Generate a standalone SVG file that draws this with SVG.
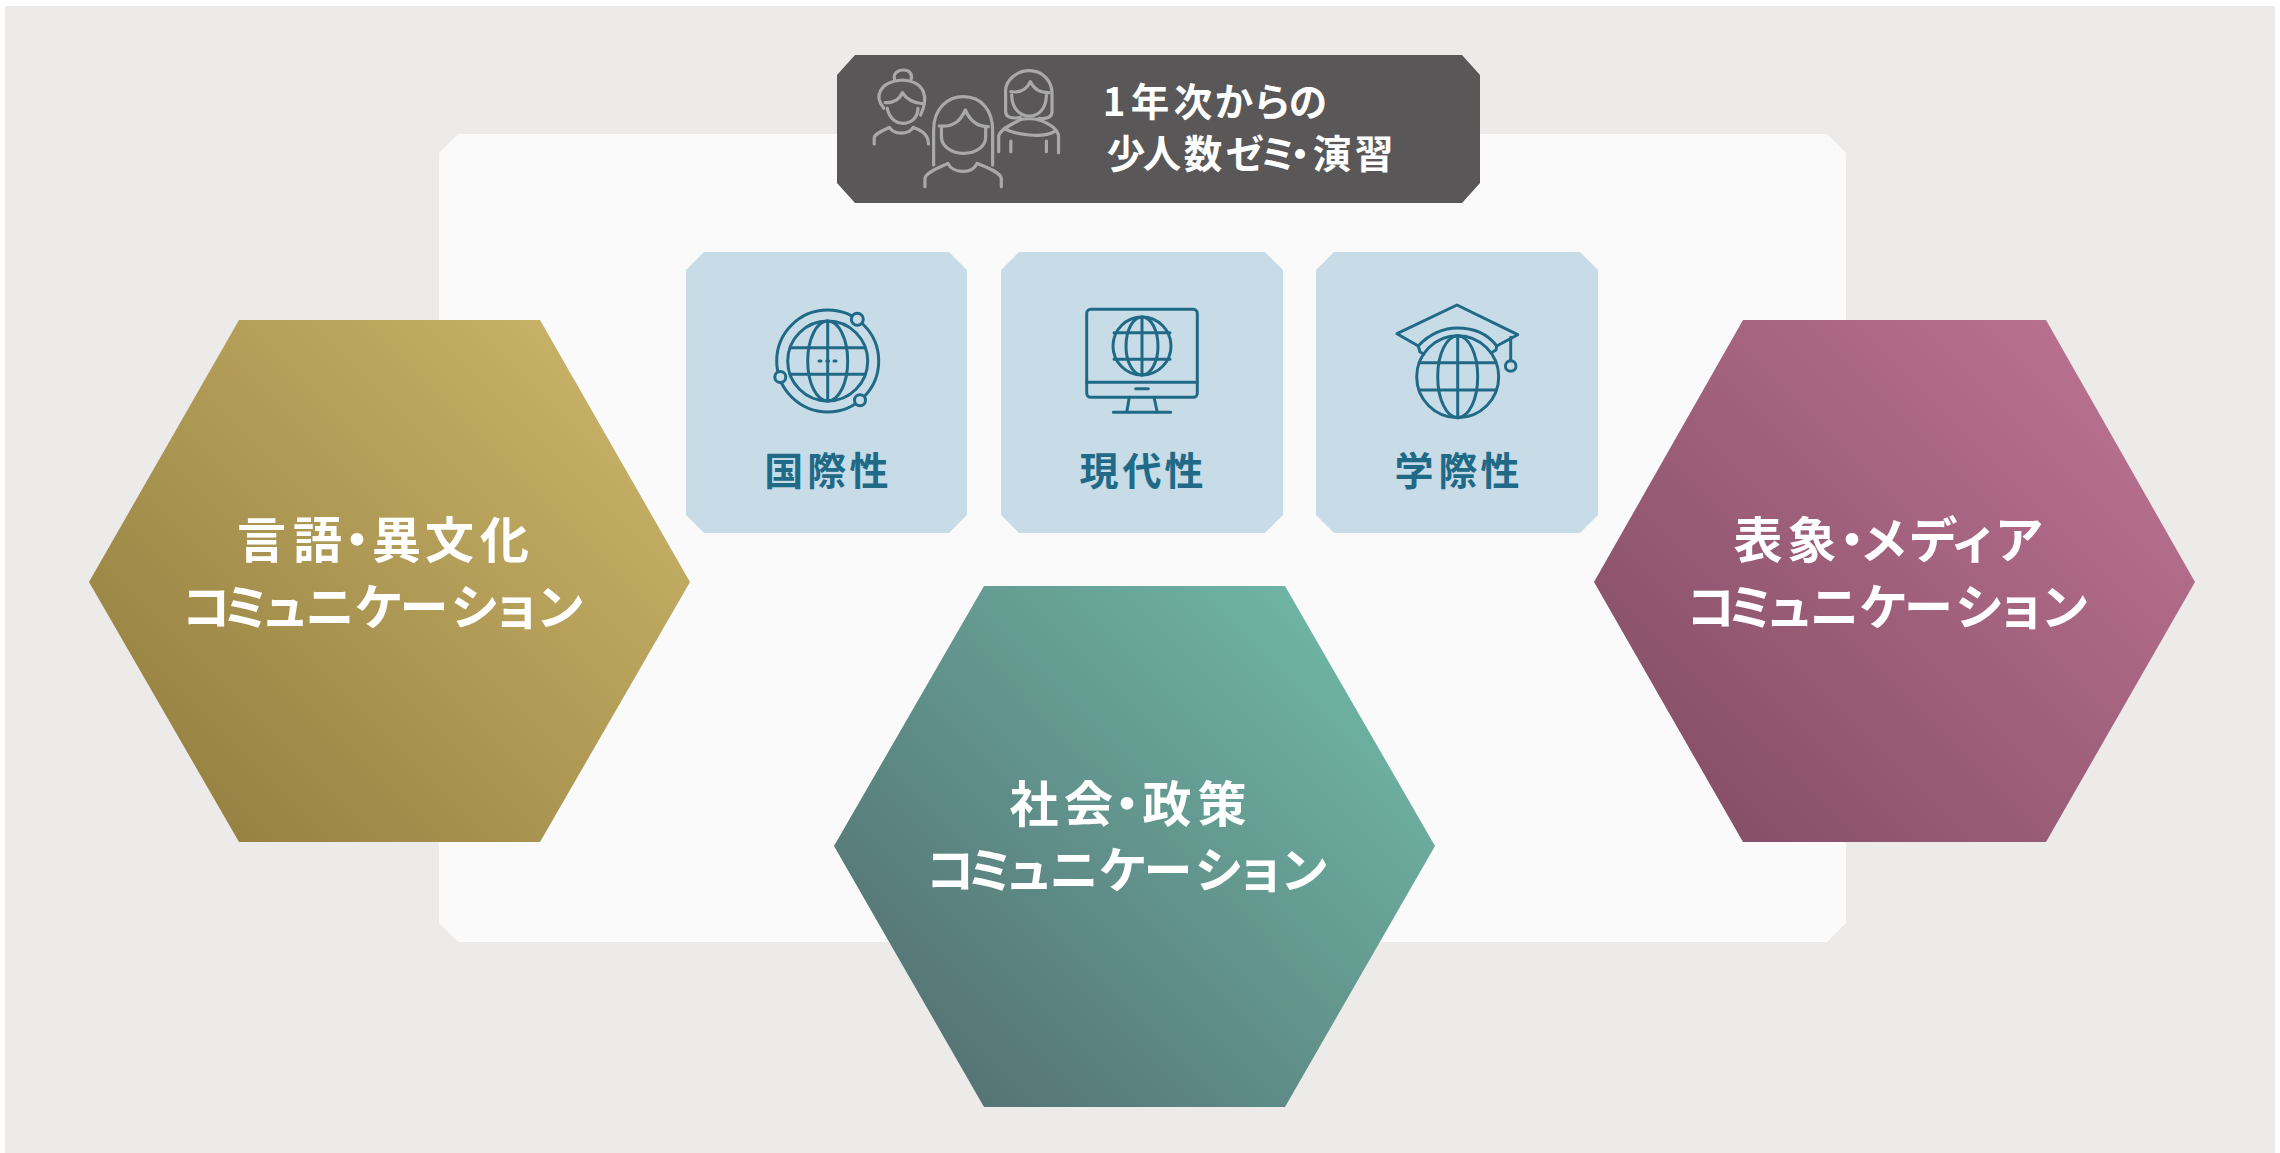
<svg xmlns="http://www.w3.org/2000/svg" width="2280" height="1153" viewBox="0 0 2280 1153">
<style>
text{font-family:"Noto Sans CJK JP","Noto Sans CJK SC",sans-serif;text-anchor:middle}
.hl{font-size:49px;font-weight:700;fill:#fff}
.dl{font-size:38.5px;font-weight:700;fill:#fff}
.cl{font-size:39px;font-weight:700;fill:#206a87}
.ic{fill:none;stroke:#206a87;stroke-width:3;stroke-linecap:round;stroke-linejoin:round}
.pp{fill:none;stroke:#a9a9a9;stroke-linecap:round;stroke-linejoin:round}
.pp path{stroke-width:3.2;vector-effect:non-scaling-stroke}
.card{fill:#c8dce8}
</style>
<defs>
<linearGradient id="gGold" gradientUnits="userSpaceOnUse" x1="184" y1="788" x2="610" y2="362"><stop offset="0" stop-color="#978243"/><stop offset="1" stop-color="#c8b268"/></linearGradient>
<linearGradient id="gGreen" gradientUnits="userSpaceOnUse" x1="928" y1="1052" x2="1354" y2="626"><stop offset="0" stop-color="#557474"/><stop offset="1" stop-color="#6fb6a6"/></linearGradient>
<linearGradient id="gPurple" gradientUnits="userSpaceOnUse" x1="1688" y1="788" x2="2114" y2="362"><stop offset="0" stop-color="#875068"/><stop offset="1" stop-color="#ba7191"/></linearGradient>
</defs>
<rect width="2280" height="1153" fill="#fff"/>
<rect id="background" x="5" y="6" width="2270" height="1147" fill="#ecebe9"/>
<polygon id="panel" points="458,134 1827,134 1846,153 1846,923 1827,942 458,942 439,923 439,153" fill="#fafafa"/>

<g id="node-seminar">
<polygon points="855,55 1462,55 1480,75 1480,183 1462,203 855,203 837,183 837,75" fill="#595758"/>
<g class="pp" transform="translate(820,40) scale(0.4337,0.3333)">
<path d="M172 118C168 100 180 90 192 90C206 90 214 102 210 118"/>
<path d="M147 205C125 170 135 125 190 120C245 125 250 175 232 225"/>
<path d="M155 205C160 240 180 250 190 250C210 250 225 235 226 205"/>
<path d="M150 188C170 190 185 175 190 158C198 175 215 190 240 192"/>
<path d="M125 312V295C125 280 150 270 160 262C170 285 205 285 215 262C230 270 250 280 250 312"/>
<path d="M262 375V270C262 205 295 170 330 170C375 170 398 215 398 270V375"/>
<path d="M280 265V290C280 320 305 340 330 340C360 340 382 320 382 290V262"/>
<path d="M275 258C310 262 325 240 335 210C345 240 360 260 388 260"/>
<path d="M242 440V415C245 395 280 380 295 370C305 400 350 405 362 370C380 380 415 395 418 415V440"/>
<path d="M462 232C440 238 428 230 428 215V160C425 120 455 92 482 92C515 92 535 125 535 160V215C535 230 525 238 505 235"/>
<path d="M442 165C442 210 465 228 482 228C505 228 522 205 522 165"/>
<path d="M440 155C465 160 478 145 485 125C492 145 505 158 528 158"/>
<path d="M412 335V290C412 270 440 255 460 240C470 235 495 235 505 240C530 250 550 270 550 290V338"/>
<path d="M425 265C450 285 515 295 540 275"/>
<path d="M440 303V335M522 303V335"/>
</g>
<text class="dl" x="1114 1150 1193 1234 1272 1308" y="116">1年次からの</text>
<text class="dl" x="1126 1162 1203 1245 1278 1300 1332 1374" y="168">少人数ゼミ・演習</text>
</g>

<g id="node-kokusai">
<polygon class="card" points="704,252 949,252 967,270 967,515 949,533 704,533 686,515 686,270"/>
<g class="ic">
<circle cx="827.7" cy="361" r="51"/>
<circle cx="827.7" cy="361" r="40"/>
<ellipse cx="827.7" cy="361" rx="20" ry="40"/>
<path d="M827.7 321V401M790 347.7H865M790 374.3H865"/>
<path d="M819 361H821M826.7 361H828.7M834 361H836"/>
<circle cx="857.3" cy="319.3" r="6" fill="#c8dce8"/>
<circle cx="780.3" cy="377" r="5.5" fill="#c8dce8"/>
<circle cx="860" cy="400.3" r="5.5" fill="#c8dce8"/>
</g>
<text class="cl" x="783.7 826.7 869" y="485">国際性</text>
</g>

<g id="node-gendai">
<polygon class="card" points="1019,252 1265,252 1283,270 1283,515 1265,533 1019,533 1001,515 1001,270"/>
<g class="ic">
<rect x="1086.7" y="309.3" width="110.6" height="88" rx="4"/>
<path d="M1086.7 382.3H1197.3M1135.7 388.7H1148.3M1129.3 397.3L1126.7 412.3M1154 397.3L1157.3 412.3M1113.3 412.3H1170.7"/>
<circle cx="1142" cy="346" r="29"/>
<ellipse cx="1142" cy="346" rx="16" ry="29"/>
<path d="M1142 317V375M1114 332.7H1170M1114 359.3H1170"/>
</g>
<text class="cl" x="1099 1142 1184" y="485">現代性</text>
</g>

<g id="node-gakusai">
<polygon class="card" points="1334,252 1580,252 1598,270 1598,515 1580,533 1334,533 1316,515 1316,270"/>
<g class="ic">
<circle cx="1457.7" cy="376.7" r="41"/>
<ellipse cx="1457.7" cy="376.7" rx="20" ry="41"/>
<path d="M1457.7 336V417.7M1419 362.7H1496M1419 390H1496"/>
<path d="M1418.3 346L1397 333.7L1457 305L1517.7 334.7L1496.7 346"/>
<path d="M1418.3 346C1430 333 1445 328 1457 328C1472 328 1487 333 1496.7 346"/>
<path d="M1418.3 346L1420 352L1424 354M1496.7 346L1496 350L1491 353"/>
<path d="M1510.7 337.3V360.7"/>
<circle cx="1510.7" cy="366" r="5.3"/>
</g>
<text class="cl" x="1414 1458 1500" y="485">学際性</text>
</g>

<g id="node-gengo">
<polygon points="239,320 540,320 690,582 540,842 239,842 89,582" fill="url(#gGold)"/>
<text class="hl" x="261.5 317.5 357 396.5 449.5 504.5" y="558">言語・異文化</text>
<text class="hl" x="206 246 285 330 379 424 475 516.5 560.6" y="625">コミュニケーション</text>
</g>

<g id="node-shakai">
<polygon points="984,586 1285,586 1435,846 1285,1107 984,1107 834,846" fill="url(#gGreen)"/>
<text class="hl" x="1034 1088.6 1127 1167 1222" y="822">社会・政策</text>
<text class="hl" x="950 990 1029 1074 1123 1168 1219 1260.5 1304.6" y="888">コミュニケーション</text>
</g>

<g id="node-hyosho">
<polygon points="1743,320 2046,320 2195,582 2046,842 1743,842 1594,582" fill="url(#gPurple)"/>
<text class="hl" x="1758 1812 1852 1884 1933 1974 2019" y="558">表象・メディア</text>
<text class="hl" x="1710.5 1750.5 1789.5 1834.5 1883.5 1928.5 1979.5 2021 2065" y="625">コミュニケーション</text>
</g>
<g id="connectors"/>
</svg>
